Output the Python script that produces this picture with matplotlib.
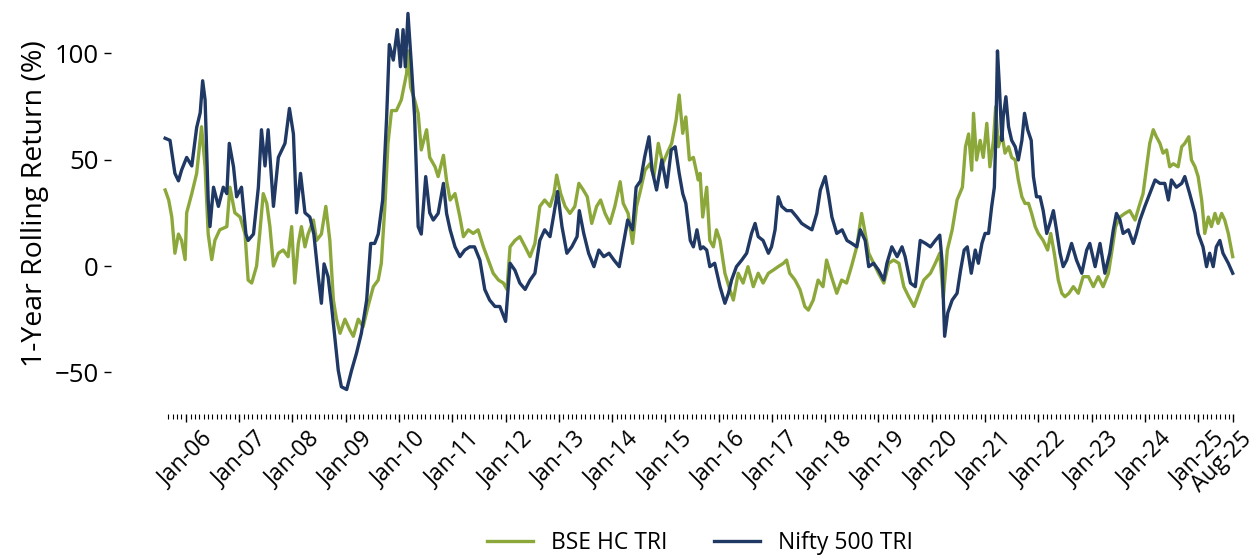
import matplotlib
matplotlib.use('Agg')
import matplotlib.pyplot as plt
import matplotlib.transforms as mtransforms
import numpy as np
import pandas as pd

plt.rcParams['font.family'] = ['Open Sans', 'DejaVu Sans']
plt.rcParams['font.size'] = 16.5

# months after Jan-2006, 1-year rolling return (%)
hc_month = [-4.7, -3.9, -3.2, -2.5, -1.7, -1.0, -0.2, 0.15, 1.3, 2.4, 3.5, 4.3, 5.0, 5.8, 6.5, 7.6,
            9.2, 9.9, 11.0, 12.2, 13.3, 14.0, 14.8, 15.9, 16.6, 17.4, 18.2, 18.9, 19.7, 20.8, 21.9,
            23.0, 23.8, 24.5, 25.3, 26.0, 26.8, 27.5, 28.7, 29.4, 30.5, 31.5, 32.4, 33.2, 33.9, 34.7,
            35.8, 36.9, 37.7, 38.8, 39.9, 41.0, 42.2, 43.3, 44.0, 44.8, 45.5, 46.3, 47.4, 48.5, 49.7,
            50.0, 50.6, 51.5, 52.3, 53.0, 54.2, 54.9, 56.1, 56.8, 58.0, 58.7, 59.5, 60.6, 61.7, 62.5,
            63.6, 64.7, 65.8, 67.0, 68.1, 69.2, 70.4, 71.5, 72.3, 73.0, 74.1, 75.2, 76.4, 77.5, 78.6,
            79.7, 80.8, 82.0, 82.9, 83.5, 84.4, 85.4, 86.5, 87.6, 88.5, 89.5, 90.4, 91.4, 92.5, 93.4,
            94.4, 95.5, 96.6, 97.8, 98.5, 99.6, 100.6, 101.5, 102.4, 103.4, 104.5, 105.4, 106.4,
            107.4, 108.4, 109.4, 110.4, 111.1, 111.9, 112.6, 113.4, 114.3, 115.4, 115.8, 116.4,
            117.3, 118.0, 118.8, 119.5, 120.3, 121.4, 122.5, 123.3, 124.4, 125.5, 126.6, 127.8,
            128.9, 130.0, 131.2, 132.3, 133.4, 134.6, 135.3, 136.0, 137.2, 138.3, 139.4, 140.2,
            141.3, 142.4, 143.5, 144.3, 145.4, 146.6, 147.7, 148.8, 149.9, 151.1, 152.2, 153.0,
            153.8, 154.9, 156.0, 157.2, 158.3, 159.4, 160.6, 161.7, 162.8, 164.0, 165.1, 166.2,
            167.7, 168.8, 169.8, 170.6, 171.5, 172.6, 173.7, 174.9, 175.6, 176.3, 177.0, 177.4,
            178.1, 178.9, 179.6, 180.4, 181.1, 181.9, 182.4, 183.0, 183.8, 184.5, 185.3, 186.0,
            186.8, 187.5, 188.3, 189.0, 189.8, 190.5, 191.3, 192.0, 193.1, 194.1, 194.8, 195.6,
            196.5, 197.3, 198.0, 198.9, 199.9, 201.0, 202.1, 203.3, 204.4, 205.5, 206.6, 207.8,
            208.5, 209.4, 210.4, 211.5, 212.6, 213.8, 214.7, 215.6, 216.4, 217.1, 217.9, 218.6,
            219.4, 220.1, 220.9, 221.6, 222.4, 223.5, 224.3, 225.0, 225.9, 226.5, 227.3, 228.0,
            228.8, 229.5, 230.3, 231.0, 231.8, 232.5, 233.3, 234.0, 234.8, 235.8]
hc_ret = [35.7, 31, 23, 6, 15, 12, 3, 25, 34, 43.5, 65.4, 46.6, 15, 3, 12, 17,
          18.5, 37, 25, 23, 15, -6.6, -8, 0, 15, 34, 29.4, 18.5, 0, 6, 7.5,
          4.4, 18.5, -8, 10.6, 18.5, 9, 15, 21.6, 12, 15, 28, 12, -16, -25, -31.6,
          -25, -30, -33, -25, -28.5, -19, -9.7, -6.6, 1.3, 28, 57.6, 73, 73, 78, 90.5,
          101, 84, 78, 71.7, 54.5, 64, 51, 46.6, 42, 52, 40, 31, 34, 23, 13.8,
          17, 15.3, 17, 9, 2.8, -3.4, -6.6, -8, -11, 9, 12, 13.8, 9, 4.4, 10.6,
          28, 31, 28, 34, 42.7, 34, 28, 24.7, 28, 38.8, 35.7, 32.5, 20, 28, 31,
          24.7, 20, 28, 39.6, 29.4, 24.7, 10.6, 28, 35.7, 45, 48, 42, 57.6,
          48, 53, 57.6, 68.5, 80.3, 62.3, 70, 49.8, 51, 40.4, 43.5, 23,
          37, 12, 9, 17, 12, -3.4, -11, -16, -3.4, -8, -0.3, -9.7,
          -3.4, -8, -3.4, -1.9, -0.3, 1.3, 2.8, -3.4, -6.6, -11, -19, -20.7,
          -16, -6.6, -9.7, 2.8, -5, -12.8, -6.6, -8, -0.3, 9, 24.7, 15.3,
          6, 1.3, -3.4, -8, 1.3, 2.8, 1.3, -9.7, -14.4, -19, -12.8, -6.6,
          -3.4, 1.3, 6, -15, 7.5, 17, 31, 37, 56, 62, 45, 71.7,
          49.8, 59, 51, 67, 46.6, 59, 74.8, 56, 62, 53, 56, 51,
          49.8, 40.4, 32.5, 29.4, 29.4, 24.7, 18.5, 15.3, 12, 7.5, 15.3, 6,
          -6.6, -12.8, -14.4, -12.8, -9.7, -12.8, -5, -5, -9.7, -5, -9.7, -3.4,
          6, 18.5, 23, 24.7, 26, 21.6, 28, 34, 46.6, 57.6, 64, 60.7,
          57.6, 53, 54.5, 46.6, 48, 46.6, 56, 57.6, 60.7, 49.8, 46.6, 42,
          31, 15.3, 23, 18.5, 24.7, 20, 24.7, 21.6, 15.3, 4.4]

nifty_month = [-4.7, -3.6, -2.5, -1.7, -1.0, 0.15, 1.3, 2.4, 3.2, 3.75, 4.3, 5.0, 5.4, 6.2, 7.3,
               8.4, 9.2, 9.75, 10.7, 11.4, 12.5, 13.5, 14.0, 15.2, 16.3, 17.0, 17.8, 18.5, 19.7,
               20.8, 22.3, 23.3, 24.2, 24.9, 25.8, 26.8, 27.9, 28.8, 29.8, 30.5, 31.1, 32.0, 32.8,
               33.5, 34.3, 35.0, 36.2, 37.3, 38.4, 39.5, 40.7, 41.6, 42.5, 43.3, 44.3, 45.2, 45.8,
               46.7, 47.6, 48.3, 48.9, 49.4, 50.0, 50.8, 51.5, 52.3, 53.0, 54.0, 54.9, 55.7, 56.8,
               58.0, 58.7, 59.5, 60.6, 61.7, 62.8, 63.9, 65.0, 66.2, 67.3, 68.4, 69.6, 70.7, 72.0,
               73.0, 74.1, 75.2, 76.4, 77.5, 78.6, 79.7, 80.8, 82.0, 82.9, 83.7, 84.7, 85.8, 86.9,
               88.1, 88.6, 89.6, 90.7, 91.9, 93.0, 94.1, 95.3, 96.4, 97.6, 98.4, 99.5, 100.6, 101.4,
               102.4, 103.3, 104.3, 105.0, 106.0, 107.2, 108.3, 109.3, 110.2, 111.1, 111.9, 112.6,
               113.6, 114.3, 115.1, 115.9, 116.5, 117.3, 118.0, 119.1, 120.3, 121.4, 122.2, 122.9,
               124.0, 125.2, 126.3, 127.4, 128.2, 128.9, 130.0, 131.2, 131.9, 132.7, 133.4, 134.2,
               135.3, 136.4, 137.6, 138.7, 139.8, 141.0, 142.1, 142.9, 144.0, 144.8, 145.5, 146.6,
               147.8, 148.9, 150.0, 151.1, 151.9, 153.0, 153.8, 154.9, 156.0, 157.2, 157.9, 159.0,
               160.2, 161.3, 162.0, 163.2, 164.3, 165.4, 166.6, 167.7, 168.8, 169.8, 170.3, 170.9,
               171.6, 172.6, 173.7, 174.5, 175.3, 176.0, 176.9, 177.8, 178.5, 179.3, 180.0, 180.8,
               181.5, 182.1, 182.4, 182.8, 183.2, 183.8, 184.1, 184.7, 185.3, 186.0, 186.8, 187.5,
               188.3, 188.9, 189.6, 190.4, 190.9, 191.6, 192.4, 193.1, 193.9, 194.6, 195.4, 196.1,
               196.9, 197.6, 198.4, 199.5, 200.6, 201.8, 202.9, 203.6, 204.8, 205.9, 207.0, 208.1,
               208.9, 209.6, 210.4, 211.1, 212.3, 213.4, 214.1, 214.9, 216.0, 217.1, 218.3, 219.4,
               220.5, 221.3, 222.0, 223.1, 224.3, 225.0, 226.1, 227.3, 228.0, 229.1, 229.9, 230.6,
               231.4, 232.1, 232.9, 233.6, 234.8, 235.8]
nifty_ret = [60, 59, 43.5, 40, 45, 51, 47, 65, 72, 87, 78, 31, 18.5, 37, 28,
             37, 34, 57.6, 46.6, 32.5, 37, 15, 12, 15, 37, 64, 47, 64, 28,
             51, 57.6, 74, 62, 25, 43.5, 25, 23, 15, -5, -17.5, 1, -5, -19,
             -33, -49, -56.7, -58, -49, -41, -31.6, -16, 10.6, 10.6, 15, 31, 70, 104,
             96.7, 111, 93.6, 111, 93.6, 118.6, 93.6, 70, 18.5, 15, 42, 25, 21.6, 24.7,
             38.8, 24.7, 17, 9, 4.4, 7.5, 9, 9, 2.8, -11, -16, -19, -19, -26,
             1.3, -2, -8, -11, -6.6, -3.4, 12, 17, 13.8, 24.7, 35, 18.5, 6, 9,
             13.8, 26, 15.3, 6, -0.3, 7.5, 4.4, 6, 2.8, -0.3, 9, 21.6, 17, 37,
             40, 51, 60.7, 45, 35.7, 49.8, 37, 54.5, 56, 43.5, 34, 29.4,
             12, 9, 17, 8, 9, 7.5, -0.3, 1.3, -9.7, -17.5, -12.8, -6.6,
             -0.3, 2.8, 6, 15.3, 20, 13.8, 12, 6, 9, 17, 32.5, 28,
             26, 26, 23, 20, 18.5, 17, 24.7, 35.7, 42, 32.5, 23, 15.3,
             17, 12, 10.6, 9, 17, 12, -0.3, 1.3, -1.9, -6.6, 1.3, 9,
             4.4, 9, 4.4, -8, -9.7, 12, 10.6, 9, 12, 14.5, 2.8, -33,
             -22, -16, -12.8, -1.9, 7.5, 9, -3.4, 7.5, 1.3, 10.6, 15.3, 15.3,
             28, 37, 59, 101, 85.8, 59, 70, 79.5, 65.4, 59, 56, 49.8,
             59, 71.7, 64, 59, 42, 32.5, 32.5, 26, 15.3, 20, 26, 17,
             6, -0.3, 2.8, 10.6, 2.8, -3.4, 7.5, 10.6, -0.3, 10.6, -3.4, 6,
             17, 24.7, 21.6, 15.3, 17, 10.6, 15.3, 21.6, 28, 34, 40.4, 38.8,
             38.8, 31, 40.4, 37, 38.8, 42, 34, 24.7, 15.3, 9, -0.3, 6,
             -0.3, 9, 12, 6, 1.3, -3.4]

labels = ['BSE HC TRI', 'Nifty 500 TRI']
colors = ['#8CA83A', '#1F3864']

base = pd.Timestamp('2006-01-01')


def to_dates(months):
    return base + pd.to_timedelta(np.array(months) * 30.4375, unit='D')


fig = plt.figure(figsize=(12.59, 5.6), dpi=100)
ax = fig.add_axes([0.0878, 0.2607, 0.934, 0.751])

ax.plot(to_dates(hc_month), hc_ret, color=colors[0], lw=2.4, label=labels[0])
ax.plot(to_dates(nifty_month), nifty_ret, color=colors[1], lw=2.4, label=labels[1])

for s in ax.spines.values():
    s.set_visible(False)

# x ticks: every January plus the last date, monthly minor ticks
end_date = to_dates([hc_month[-1]])[0]
majors = list(pd.date_range('2006-01-01', '2025-01-01', freq='YS')) + [end_date]
ax.set_xticks(majors)
ax.set_xticklabels([d.strftime('%b-%y') for d in majors], rotation=45)
ax.set_xticks(pd.date_range('2005-09-01', '2025-08-01', freq='MS'), minor=True)
ax.tick_params(axis='x', which='major', length=6, width=1)
ax.tick_params(axis='x', which='minor', length=3.5, width=0.8)
ax.tick_params(axis='y', length=5, width=1, labelsize=18.5)

# last label sits close to the edge
last = ax.get_xticklabels()[-1]
last.set_transform(last.get_transform() + mtransforms.ScaledTranslation(-11 / 100, 0, fig.dpi_scale_trans))

ax.set_xlim(to_dates([-17.0, 247.9]))
ax.set_ylim(-69.5, 128)
ax.set_yticks([-50, 0, 50, 100])
ax.set_ylabel('1-Year Rolling Return (%)', fontsize=20.5)

fig.legend(loc='center', bbox_to_anchor=(700 / 1259, 17 / 560), ncol=2, frameon=False)

fig.savefig('out.png', dpi=100)
